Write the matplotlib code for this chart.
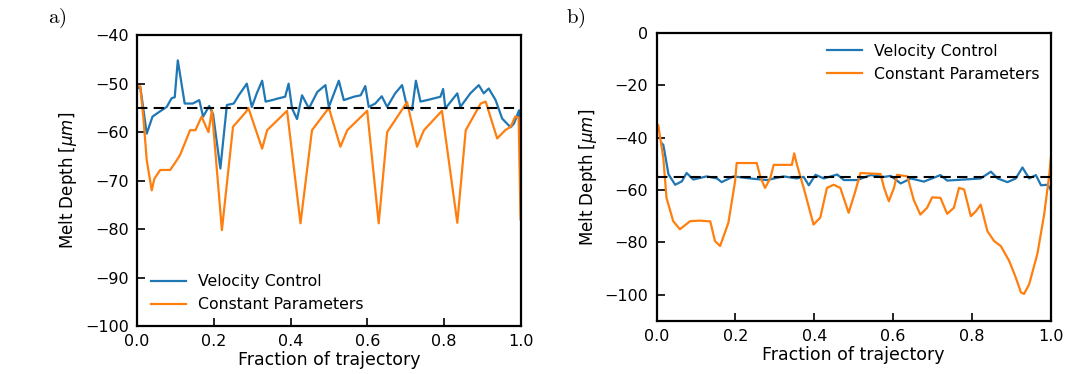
import matplotlib
matplotlib.use("Agg")
import matplotlib.pyplot as plt

# ---- panel a) : readings from the reference ----
a_vel_x = [0.0, 0.008, 0.025, 0.04, 0.058, 0.077, 0.09, 0.098, 0.106, 0.124, 0.145, 0.162,
           0.172, 0.188, 0.198, 0.217, 0.234, 0.252, 0.265, 0.286, 0.299, 0.312, 0.326,
           0.335, 0.352, 0.37, 0.386, 0.395, 0.404, 0.417, 0.43, 0.448, 0.47, 0.491, 0.5,
           0.526, 0.539, 0.565, 0.583, 0.595, 0.604, 0.621, 0.638, 0.652, 0.673, 0.691,
           0.704, 0.717, 0.727, 0.739, 0.756, 0.791, 0.798, 0.804, 0.821, 0.835, 0.843,
           0.869, 0.891, 0.904, 0.917, 0.935, 0.952, 0.974, 0.983, 0.996, 1.0]
a_vel_y = [-51.0, -50.6, -60.3, -56.8, -55.8, -54.8, -53.0, -52.8, -45.2, -54.1, -54.1, -53.4,
           -56.8, -54.6, -56.3, -67.5, -54.4, -54.1, -52.4, -50.0, -54.8, -52.0, -49.4,
           -53.7, -53.4, -53.0, -52.7, -50.0, -55.1, -57.3, -52.4, -55.1, -51.7, -50.3, -54.8,
           -49.4, -53.4, -52.7, -52.4, -50.5, -54.8, -54.1, -52.6, -54.8, -52.0, -50.3,
           -54.8, -55.4, -49.4, -53.7, -53.4, -52.7, -51.1, -55.1, -53.4, -52.0, -54.8,
           -52.0, -50.3, -52.0, -51.0, -53.4, -57.2, -59.0, -58.2, -55.5, -66.0]

a_const_x = [0.0, 0.008, 0.016, 0.025, 0.038, 0.045, 0.06, 0.086, 0.1, 0.112, 0.138, 0.152,
             0.168, 0.186, 0.195, 0.221, 0.25, 0.284, 0.29, 0.326, 0.339, 0.391, 0.426,
             0.456, 0.5, 0.53, 0.548, 0.6, 0.63, 0.652, 0.704, 0.73, 0.748, 0.795, 0.835,
             0.857, 0.896, 0.909, 0.939, 0.96, 0.974, 0.986, 0.995, 1.0]
a_const_y = [-50.5, -50.6, -56.8, -65.8, -72.0, -69.6, -67.8, -67.8, -66.2, -64.7, -59.6,
             -59.6, -56.8, -60.0, -55.5, -80.2, -58.9, -55.8, -55.0, -63.4, -59.6, -55.6,
             -78.8, -59.6, -55.0, -63.0, -59.6, -55.6, -78.8, -60.0, -53.8, -63.0, -59.6,
             -55.6, -78.7, -59.6, -54.1, -53.7, -61.3, -59.6, -58.9, -56.8, -57.0, -78.0]

# ---- panel b) ----
b_vel_x = [0.012, 0.017, 0.03, 0.047, 0.064, 0.076, 0.093, 0.127, 0.153, 0.165, 0.195, 0.237,
           0.28, 0.322, 0.356, 0.373, 0.386, 0.403, 0.424, 0.458, 0.475, 0.509, 0.543, 0.577,
           0.594, 0.619, 0.645, 0.678, 0.72, 0.737, 0.78, 0.822, 0.848, 0.865, 0.89, 0.911,
           0.928, 0.945, 0.962, 0.975, 0.992, 1.0]
b_vel_y = [-42.0, -42.8, -54.0, -58.0, -56.7, -53.5, -56.0, -54.8, -55.6, -57.0, -54.8, -55.6,
           -56.2, -54.8, -55.6, -55.0, -58.2, -54.2, -55.6, -54.1, -56.2, -56.2, -54.3, -55.0,
           -54.6, -57.5, -55.6, -56.8, -54.3, -56.4, -56.0, -55.6, -53.0, -55.6, -57.0, -55.6,
           -51.4, -55.6, -54.3, -58.2, -58.0, -60.0]

b_const_x = [0.0, 0.004, 0.017, 0.025, 0.042, 0.059, 0.085, 0.11, 0.136, 0.148, 0.161, 0.182,
             0.199, 0.203, 0.254, 0.263, 0.275, 0.288, 0.297, 0.343, 0.349, 0.356, 0.373,
             0.398, 0.415, 0.432, 0.449, 0.466, 0.487, 0.504, 0.517, 0.568, 0.577, 0.589,
             0.602, 0.61, 0.636, 0.652, 0.669, 0.686, 0.699, 0.72, 0.737, 0.754, 0.767,
             0.78, 0.797, 0.81, 0.822, 0.839, 0.856, 0.873, 0.894, 0.911, 0.924, 0.932,
             0.945, 0.966, 0.983, 0.996, 1.0]
b_const_y = [-35.0, -35.2, -47.8, -63.0, -71.9, -75.0, -71.9, -71.7, -72.0, -79.5, -81.4, -72.5,
             -56.7, -49.7, -49.7, -55.0, -59.2, -55.6, -50.4, -50.4, -46.0, -50.4, -59.2,
             -73.2, -70.6, -59.2, -58.0, -59.2, -68.7, -60.5, -53.5, -53.9, -59.2, -64.3,
             -59.2, -54.2, -54.8, -63.7, -69.4, -66.8, -62.8, -63.0, -69.1, -66.8, -59.2,
             -59.8, -70.0, -68.1, -65.6, -75.7, -79.5, -81.4, -87.0, -93.4, -99.1, -99.7,
             -96.0, -84.3, -69.4, -54.2, -47.8]

TARGET = -55
BLUE, ORANGE = "#1f77b4", "#ff7f0e"

plt.rcParams["font.family"] = "DejaVu Sans"
plt.rcParams["font.size"] = 11

fig = plt.figure(figsize=(10.8, 3.74), dpi=100)
ax1 = fig.add_axes([0.127, 0.128, 0.355, 0.778])
ax2 = fig.add_axes([0.608, 0.142, 0.365, 0.770])


def style(ax):
    for s in ax.spines.values():
        s.set_linewidth(1.6)
    ax.tick_params(direction="in", length=6, width=1.2, labelsize=11.5,
                   top=False, right=False, pad=6)
    ax.set_xlabel("Fraction of trajectory", fontsize=12.5, labelpad=1)
    ax.set_ylabel(r"Melt Depth [$\mu m$]", fontsize=12)
    ax.set_xlim(0, 1)
    ax.set_xticks([0.0, 0.2, 0.4, 0.6, 0.8, 1.0])


ax1.plot(a_vel_x, a_vel_y, color=BLUE, lw=1.6, label="Velocity Control")
ax1.plot(a_const_x, a_const_y, color=ORANGE, lw=1.6, label="Constant Parameters")
ax1.plot([0, 1], [TARGET, TARGET], color="black", ls="--", lw=1.5, dashes=(5, 3))
ax1.set_ylim(-100, -40)
ax1.set_yticks(range(-100, -39, 10))
style(ax1)
ax1.legend(loc="lower left", frameon=False, fontsize=11.3, handlelength=2.2,
           borderaxespad=0.5)

ax2.plot(b_vel_x, b_vel_y, color=BLUE, lw=1.6, label="Velocity Control")
ax2.plot(b_const_x, b_const_y, color=ORANGE, lw=1.6, label="Constant Parameters")
ax2.plot([0, 1], [TARGET, TARGET], color="black", ls="--", lw=1.5, dashes=(5, 3))
ax2.set_ylim(-110, 0)
ax2.set_yticks(range(-100, 1, 20))
style(ax2)
ax2.legend(loc="upper right", frameon=False, fontsize=11.3, handlelength=2.2,
           borderaxespad=0.3)

fig.text(0.044, 0.95, r"$\mathrm{a)}$", math_fontfamily="cm", fontsize=15, va="center")
fig.text(0.524, 0.95, r"$\mathrm{b)}$", math_fontfamily="cm", fontsize=15, va="center")

fig.savefig("out.png", dpi=100)
